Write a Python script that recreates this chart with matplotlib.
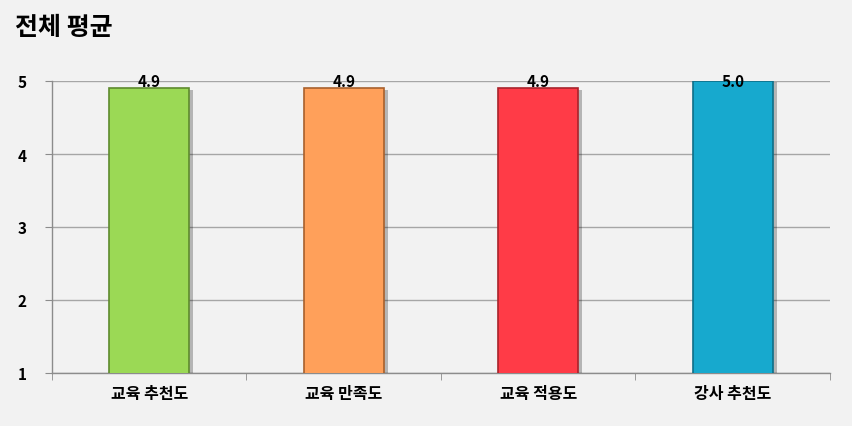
import matplotlib
matplotlib.use("Agg")
import matplotlib.pyplot as plt
import matplotlib.patheffects as pe

plt.rcParams['font.family'] = ['Noto Sans CJK KR', 'DejaVu Sans']

# 데이터
categorias = ['교육 추천도', '교육 만족도', '교육 적용도', '강사 추천도']
valores = [4.9, 4.9, 4.9, 5.0]
etiquetas = ['4.9', '4.9', '4.9', '5.0']
colores = ['#9BD955', '#FFA05A', '#FF3B47', '#17A9CE']
bordes = ['#5E8A2E', '#A8602C', '#A8232B', '#0E6F88']
y_ticks = [1, 2, 3, 4, 5]

fondo = '#F2F2F2'
fig = plt.figure(figsize=(8.53, 4.27), dpi=100, facecolor=fondo)
ax = fig.add_axes([52 / 853, 1 - 374 / 427, 778 / 853, 292 / 427], facecolor=fondo)

x = list(range(len(categorias)))
barras = ax.bar(x, valores, width=0.41, color=colores, edgecolor=bordes,
                linewidth=1.2, zorder=3)
for b in barras:
    b.set_path_effects([pe.SimplePatchShadow(offset=(3, -1), shadow_rgbFace='#000000', alpha=0.25),
                        pe.Normal()])

# etiquetas de valor
for xi, txt in zip(x, etiquetas):
    ax.text(xi, 5.0, txt, ha='center', va='center', fontsize=11,
            fontweight='bold', color='black', zorder=5)

ax.set_xlim(-0.5, len(categorias) - 0.5)
ax.set_ylim(1, 5)
ax.set_yticks(y_ticks)
ax.set_yticklabels([str(t) for t in y_ticks], fontsize=11, fontweight='bold')
ax.set_xticks(x)
ax.set_xticklabels(categorias, fontsize=11.5, fontweight='bold')
ax.set_xticks([i - 0.5 for i in range(len(categorias) + 1)], minor=True)

ax.tick_params(axis='x', which='major', length=0, pad=9)
ax.tick_params(axis='x', which='minor', length=5, color='#8C8C8C', direction='out')
ax.tick_params(axis='y', length=5, color='#8C8C8C', pad=13)

ax.grid(axis='y', color='#A6A6A6', linewidth=1, zorder=0)
for lado in ['top', 'right']:
    ax.spines[lado].set_visible(False)
for lado in ['left', 'bottom']:
    ax.spines[lado].set_color('#8C8C8C')
    ax.spines[lado].set_linewidth(1)

fig.text(15 / 853, 1 - 28 / 427, '전체 평균', fontsize=18, fontweight='bold',
         ha='left', va='center', color='black')

fig.savefig('out.png', dpi=100, facecolor=fondo)
